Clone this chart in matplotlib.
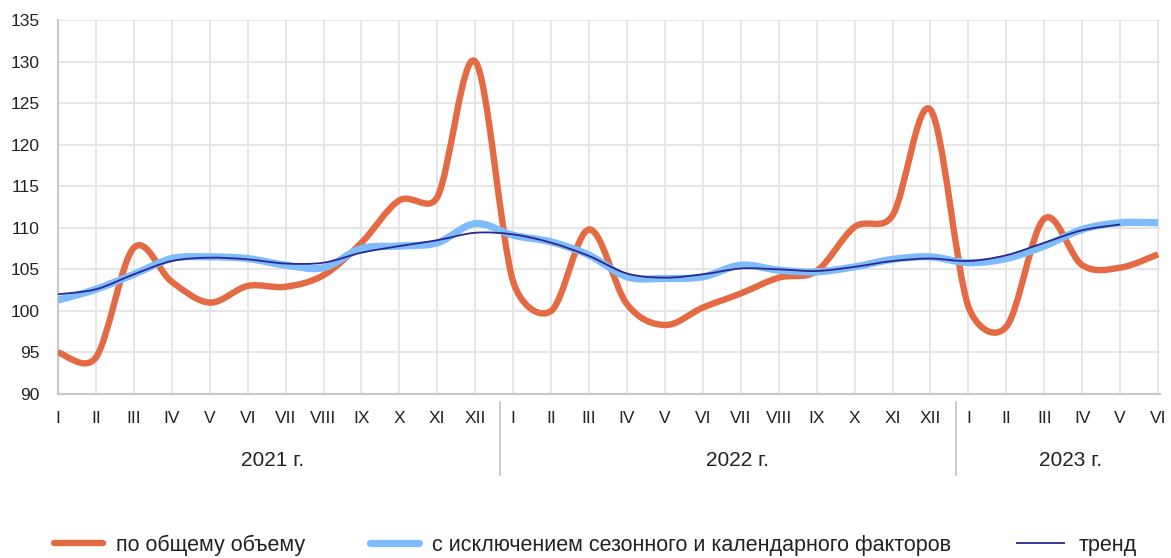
import numpy as np
import matplotlib
matplotlib.use("Agg")
import matplotlib.pyplot as plt
from matplotlib.path import Path
from matplotlib.patches import PathPatch
from matplotlib.lines import Line2D

plt.rcParams['font.family'] = ['Liberation Sans', 'DejaVu Sans']

months = ['I', 'II', 'III', 'IV', 'V', 'VI', 'VII', 'VIII', 'IX', 'X', 'XI', 'XII'] * 2 + \
         ['I', 'II', 'III', 'IV', 'V', 'VI']
years = ['2021 г.', '2022 г.', '2023 г.']

total = [95.0, 94.4, 107.6, 103.5, 101.0, 103.0, 102.9, 104.3, 108.2, 113.3, 113.7, 130.0,
         103.5, 100.0, 109.8, 100.8, 98.3, 100.4, 102.1, 104.0, 104.8, 110.1, 111.5, 124.2,
         100.5, 98.1, 111.1, 105.5, 105.2, 106.8]
seas_adj = [101.3, 102.6, 104.4, 106.3, 106.5, 106.3, 105.5, 105.2, 107.5, 107.8, 108.2, 110.5,
            109.1, 108.3, 106.7, 104.1, 103.9, 104.1, 105.5, 104.9, 104.7, 105.3, 106.2, 106.5,
            105.8, 106.3, 107.8, 109.8, 110.6, 110.6]
trend = [102.0, 102.6, 104.4, 106.0, 106.4, 106.2, 105.7, 105.8, 107.0, 107.8, 108.5, 109.4,
         109.2, 108.2, 106.6, 104.5, 104.0, 104.4, 105.1, 105.0, 104.8, 105.3, 106.0, 106.3,
         106.0, 106.7, 108.2, 109.7, 110.4]


def smooth_path(y, sx, sy):
    # Excel-like smoothed line, control points worked out in pixel space
    x = np.arange(len(y), dtype=float)
    p = np.column_stack([x * sx, np.asarray(y, float) * sy])
    pts = np.vstack([p[0], p, p[-1]])
    verts = [p[0]]
    codes = [Path.MOVETO]
    for i in range(1, len(pts) - 2):
        p0, p1, p2, p3 = pts[i - 1], pts[i], pts[i + 1], pts[i + 2]
        half = np.hypot(*(p2 - p1)) / 2
        t1 = (p2 - p0) / 6.0
        t2 = (p3 - p1) / 6.0
        for t in (t1, t2):
            n = np.hypot(*t)
            if n > half:
                t *= half / n
        verts += [p1 + t1, p2 - t2, p2]
        codes += [Path.CURVE4] * 3
    verts = np.array(verts) / [sx, sy]
    return Path(verts, codes)


W, H = 1171, 558
fig = plt.figure(figsize=(W / 100, H / 100), dpi=100)
ax_w, ax_h = 1102, 374
ax = fig.add_axes([58 / W, 1 - 394 / H, ax_w / W, ax_h / H])
xmax, ymin, ymax = 29.05, 90, 135
ax.set_xlim(0, xmax)
ax.set_ylim(ymin, ymax)
sx, sy = ax_w / xmax, ax_h / (ymax - ymin)

series = [
    (total, '#E46A44', 4.6, 'по общему объему'),
    (seas_adj, '#7DBBFA', 5.2, 'с исключением сезонного и календарного факторов'),
    (trend, '#2C2790', 1.3, 'тренд'),
]
handles = []
for vals, col, lw, lab in series:
    patch = PathPatch(smooth_path(vals, sx, sy), facecolor='none', edgecolor=col, lw=lw,
                      capstyle='butt', joinstyle='round', zorder=3)
    ax.add_patch(patch)
    handles.append(Line2D([], [], color=col, lw=lw,
                          solid_capstyle='round' if lw > 3 else 'butt', label=lab))

ax.set_yticks(np.arange(90, 136, 5))
ax.set_xticks(np.arange(len(months)))
ax.set_xticklabels(months)
ax.grid(True, color='#e4e4e4', lw=1.3, zorder=0)
ax.tick_params(axis='both', length=0, labelsize=12.5, colors='#222222')
ax.tick_params(axis='x', pad=12)
ax.tick_params(axis='y', pad=13)
for s in ['top', 'right']:
    ax.spines[s].set_visible(False)
for s in ['left', 'bottom']:
    ax.spines[s].set_color('#c8c8c8')
    ax.spines[s].set_linewidth(1.5)

tr = ax.get_xaxis_transform()
for xs in [11.66, 23.68]:
    ax.add_line(Line2D([xs, xs], [-0.021, -0.217], color='#c8c8c8', lw=1.3,
                       transform=tr, clip_on=False))
for xp, lab in zip([5.65, 17.9, 26.7], years):
    ax.text(xp, -0.177, lab, transform=tr, ha='center', va='center',
            fontsize=15, color='#222222')

fig.legend(handles=handles, loc='center', bbox_to_anchor=(595 / W, 1 - 545 / H), ncol=3,
           frameon=False, fontsize=15.5, handlelength=2.3, handletextpad=0.6,
           columnspacing=3.0, labelcolor='#222222')

fig.savefig('out.png', dpi=100, facecolor='white')
